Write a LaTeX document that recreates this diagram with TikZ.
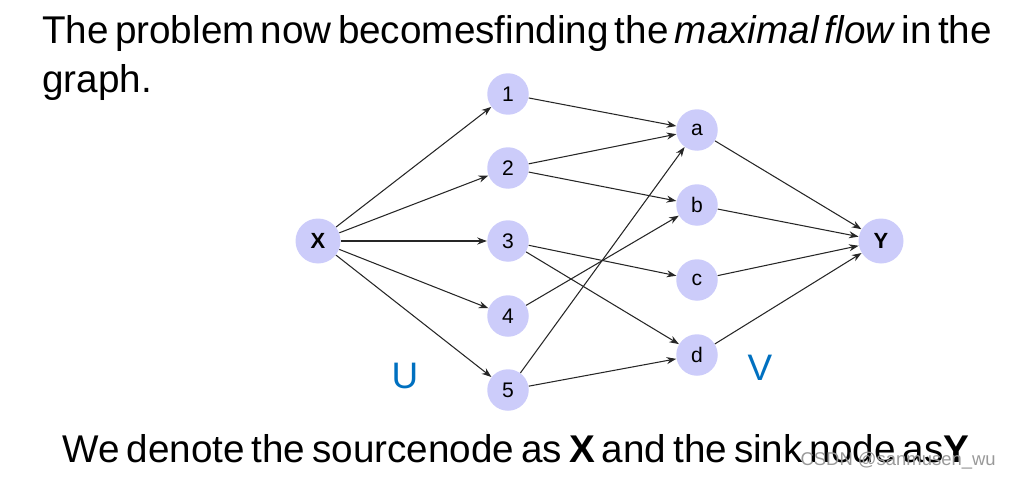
\documentclass[tikz,border=0pt]{standalone}
\usepackage{fontspec}
\setmainfont{Liberation Sans}
\usetikzlibrary{arrows.meta}
\definecolor{nodefill}{RGB}{204,204,250}
\definecolor{setblue}{RGB}{0,112,192}
\newcommand{\tightspace}[1]{\spaceskip=#1 plus 0.05em\relax}
\begin{document}
\begin{tikzpicture}[x=0.02cm,y=-0.02cm]
    \tikzstyle{vertex}=[circle,fill=nodefill,minimum size=0.83cm,inner sep=0pt,font=\fontsize{12}{14}\selectfont]
    \tikzstyle{endvertex}=[vertex,minimum size=0.9cm,font=\fontsize{12.5}{14}\selectfont\bfseries]
    \tikzstyle{edge}=[draw=black!85,line width=0.6pt,-{Stealth[length=5.5pt,width=4pt]}]
    \tikzstyle{bigtext}=[anchor=base west,inner sep=0pt,font=\fontsize{22}{27}\selectfont]
    \useasboundingbox (0,0) rectangle (1010,477);
    % caption lines
    \node[bigtext] (line1) at (42,43) {\tightspace{0.16em}The problem now becomesfinding the \textit{maximal flow} in the};
    \node[bigtext] (line2) at (42,92) {graph.};
    \node[bigtext] (line3) at (62,462) {\tightspace{0.18em}We denote the sourcenode as \textbf{X} and the sink node as\textbf{Y}};
    \node[anchor=base east,inner sep=0pt,text=black!40,font=\fontsize{10.5}{12}\selectfont] (mark) at (996,465) {CSDN @sanmusen\_wu};
    % source and sink
    \node[endvertex] (X) at (318,241) {X};
    \node[endvertex] (Y) at (881,241) {Y};
    % left side
    \node[vertex] (n1) at (508,94) {1};
    \node[vertex] (n2) at (508,168) {2};
    \node[vertex] (n3) at (508,241) {3};
    \node[vertex] (n4) at (508,316) {4};
    \node[vertex] (n5) at (508,390) {5};
    % right side
    \node[vertex] (a) at (697,130) {a};
    \node[vertex] (b) at (697,205) {b};
    \node[vertex] (c) at (697,280) {c};
    \node[vertex] (d) at (697,355) {d};
    % set labels
    \node[text=setblue,font=\fontsize{21}{25}\selectfont] (U) at (405,376) {U};
    \node[text=setblue,font=\fontsize{21}{25}\selectfont] (V) at (760,368) {V};
    % edges
    \foreach \t in {n1,n2,n3,n4,n5}
      \draw[edge] (X) -- (\t);
    \foreach \s/\t in {n1/a,n2/a,n2/b,n3/c,n3/d,n4/b,n5/a,n5/d}
      \draw[edge] (\s) -- (\t);
    \foreach \s in {a,b,c,d}
      \draw[edge] (\s) -- (Y);
  \end{tikzpicture}
\end{document}
